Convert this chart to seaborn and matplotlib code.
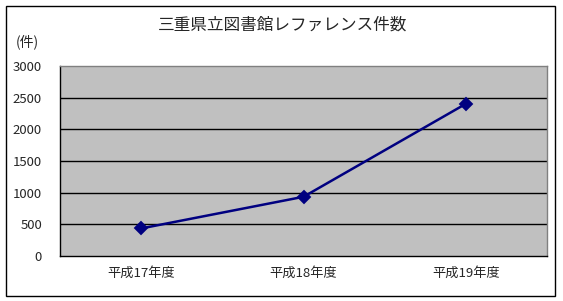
import matplotlib
matplotlib.use("Agg")
import matplotlib.pyplot as plt
import seaborn as sns
import pandas as pd
from matplotlib.patches import Rectangle

categories = ["平成17年度", "平成18年度", "平成19年度"]
values = [435, 935, 2403]
yticks = [0, 500, 1000, 1500, 2000, 2500, 3000]

sns.set_style("white")
plt.rcParams['font.family'] = ['Noto Sans CJK JP', 'DejaVu Sans']

df = pd.DataFrame({"year": categories, "count": values})

fig = plt.figure(figsize=(5.63, 3.01), dpi=100)
ax = fig.add_axes([60/563, 1-256/301, 487/563, 190/301])
ax.set_facecolor("#C0C0C0")

sns.pointplot(data=df, x="year", y="count", color="#000080", markers="D",
              markersize=6, linewidth=1.8, ax=ax, errorbar=None)

ax.set_ylim(0, 3000)
ax.set_xlim(-0.5, 2.5)
ax.set_yticks(yticks)
ax.set_yticklabels([str(v) for v in yticks], fontsize=9.5)
ax.set_xticks([-0.5, 0.5, 1.5, 2.5], minor=False)
ax.set_xticklabels([])
ax.set_xticks([0, 1, 2], minor=True)
ax.set_xticklabels(categories, minor=True, fontsize=9.5)
ax.tick_params(axis='x', which='minor', length=0, pad=8)
ax.tick_params(axis='x', which='major', length=4, direction='out', color='black')
ax.tick_params(axis='y', length=4, direction='out', color='black', pad=9)
for v in yticks[1:-1]:
    ax.axhline(v, color="black", linewidth=1, zorder=0.5)
ax.set_xlabel("")
ax.set_ylabel("")
for s in ["top", "right"]:
    ax.spines[s].set_color("#808080")
    ax.spines[s].set_linewidth(1)
for s in ["left", "bottom"]:
    ax.spines[s].set_color("black")
    ax.spines[s].set_linewidth(1)

fig.text(283/563, 1-25/301, "三重県立図書館レファレンス件数", ha="center", va="center", fontsize=12)
fig.text(27/563, 1-42/301, "(件)", ha="center", va="center", fontsize=10)
fig.patches.append(Rectangle((6/563, 5/301), 549/563, 290/301, transform=fig.transFigure,
                             fill=False, edgecolor="black", linewidth=1))

fig.savefig("out.png", dpi=100)
